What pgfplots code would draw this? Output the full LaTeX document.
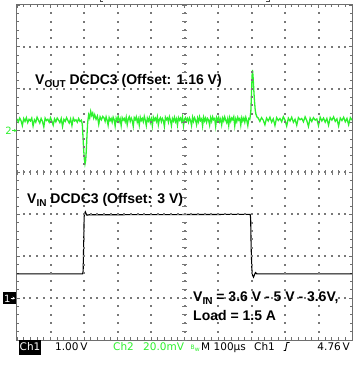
\documentclass[border=0pt]{standalone}
\usepackage{pgfplots}
\pgfplotsset{compat=1.18}
\usetikzlibrary{arrows.meta}
\usepackage{fontspec}
\setmainfont{Liberation Sans}
\newfontfamily\scopefont{DejaVu Sans}
\definecolor{scopegreen}{RGB}{45,240,45}
\definecolor{gridgray}{RGB}{120,120,120}
\definecolor{bordergray}{RGB}{110,110,110}

\begin{document}
\begin{tikzpicture}[x=1bp,y=1bp]
\path[use as bounding box] (-17,-31) rectangle (340,340);
\begin{axis}[at={(0,0)}, anchor=south west, width=335bp, height=335bp, scale only axis,
  xmin=0, xmax=1000, ymin=-4, ymax=4,
  xtick={0,100,...,1000}, ytick={-4,-3,...,4},
  xticklabels={}, yticklabels={},
  minor x tick num=4, minor y tick num=4,
  tick align=inside, major tick length=3bp, minor tick length=2.5bp,
  tick style={bordergray, line width=0.9bp},
  axis line style={bordergray, line width=1bp},
  clip=true]
% Ch2 (VOUT), divisions
\addplot[scopegreen, line width=1.3bp] coordinates {
(0,1.28)(4,1.21)(8,1.30)(12,1.24)(16,1.12)(20,1.29)(24,1.22)(28,1.31)(32,1.19)(36,1.27)
(40,1.23)(44,1.30)(48,1.11)(52,1.26)(56,1.20)(60,1.32)(64,1.25)(68,1.18)(72,1.29)(76,1.22)
(80,1.09)(84,1.30)(88,1.24)(92,1.27)(96,1.20)(100,1.31)(104,1.23)(108,1.13)(112,1.28)(116,1.21)
(120,1.30)(124,1.25)(128,1.19)(132,1.29)(136,1.10)(140,1.27)(144,1.22)(148,1.31)(152,1.24)(156,1.18)
(160,1.28)(164,1.12)(168,1.30)(172,1.23)(176,1.26)(180,1.20)(184,1.29)(188,1.22)(192,1.25)
(195,1.15)(197,0.85)(199,0.55)(201,0.32)(203,0.20)(205,0.28)(207,0.55)(209,0.90)(211,1.20)
(214,1.38)(217,1.30)(220,1.46)(223,1.36)(226,1.42)(229,1.30)(232,1.38)(236,1.27)(240,1.35)
(244,1.15)(248,1.33)(252,1.26)(256,1.34)
(260,1.30)(263,1.22)(266,1.33)(269,1.25)(272,1.13)(275,1.31)(278,1.24)(281,1.29)(284,1.20)(287,1.32)
(290,1.26)(293,1.11)(296,1.30)(299,1.23)(302,1.34)(305,1.21)(308,1.28)(311,1.12)(314,1.31)(317,1.25)
(320,1.29)(323,1.21)(326,1.32)(329,1.14)(332,1.27)(335,1.33)(338,1.22)(341,1.30)(344,1.24)(347,1.10)
(350,1.31)(353,1.26)(356,1.33)(359,1.20)(362,1.28)(365,1.13)(368,1.32)(371,1.24)(374,1.29)(377,1.21)
(380,1.34)(383,1.25)(386,1.12)(389,1.30)(392,1.23)(395,1.31)(398,1.19)(401,1.28)(404,1.11)(407,1.32)
(410,1.25)(413,1.30)(416,1.22)(419,1.33)(422,1.14)(425,1.27)(428,1.31)(431,1.21)(434,1.29)(437,1.24)
(440,1.10)(443,1.32)(446,1.26)(449,1.30)(452,1.20)(455,1.33)(458,1.25)(461,1.12)(464,1.29)(467,1.23)
(470,1.32)(473,1.21)(476,1.28)(479,1.13)(482,1.31)(485,1.25)(488,1.30)(491,1.22)(494,1.33)(497,1.11)
(500,1.27)(503,1.31)(506,1.23)(509,1.29)(512,1.20)(515,1.30)(518,1.24)(521,1.12)(524,1.32)(527,1.22)
(530,1.31)(533,1.25)(536,1.14)(539,1.30)(542,1.21)(545,1.33)(548,1.24)(551,1.28)(554,1.11)(557,1.32)
(560,1.23)(563,1.30)(566,1.20)(569,1.29)(572,1.25)(575,1.13)(578,1.31)(581,1.22)(584,1.33)(587,1.26)
(590,1.29)(593,1.10)(596,1.31)(599,1.24)(602,1.32)(605,1.21)(608,1.28)(611,1.14)(614,1.30)(617,1.23)
(620,1.33)(623,1.25)(626,1.19)(629,1.29)(632,1.12)(635,1.31)(638,1.22)(641,1.30)(644,1.26)(647,1.33)
(650,1.11)(653,1.28)(656,1.21)(659,1.32)(662,1.25)(665,1.29)(668,1.13)(671,1.31)(674,1.23)(677,1.30)
(680,1.20)(683,1.32)(686,1.24)(689,1.12)(692,1.29)(695,1.27)
(698,1.45)(700,1.90)(702,2.35)(703,2.45)(705,2.25)(707,1.95)(709,1.70)(711,1.50)(713,1.40)(716,1.33)
(720,1.30)(725,1.22)(730,1.31)(735,1.25)(740,1.14)(745,1.30)(750,1.23)(755,1.32)(760,1.20)(765,1.28)
(770,1.12)(775,1.31)(780,1.24)(785,1.29)(790,1.21)(795,1.33)(800,1.25)(805,1.11)(810,1.30)(815,1.23)
(820,1.32)(825,1.20)(830,1.27)(835,1.13)(840,1.31)(845,1.26)(850,1.29)(855,1.21)(860,1.33)(865,1.24)
(870,1.10)(875,1.30)(880,1.22)(885,1.31)(890,1.25)(895,1.28)(900,1.12)(905,1.32)(910,1.23)(915,1.30)
(920,1.20)(925,1.29)(930,1.13)(935,1.31)(940,1.25)(945,1.33)(950,1.22)(955,1.28)(960,1.11)(965,1.30)
(970,1.24)(975,1.32)(980,1.21)(985,1.29)(990,1.14)(995,1.31)(1000,1.25)
};
% Ch1 (VIN), divisions
\addplot[black, line width=1.1bp] coordinates {
(0,-2.42)(196,-2.42)(197.5,-2.35)(199,-1.7)(200.5,-1.05)(202,-0.98)(204,-0.94)(206,-0.98)(209,-1.02)
(215,-1.01)(696,-1.00)(697.5,-1.1)(699,-1.8)(701,-2.3)(703,-2.45)(706,-2.50)(709,-2.44)(712,-2.39)
(716,-2.42)(1000,-2.42)
};
\end{axis}
% grid: one dot per minor division on every major line
\foreach \gx in {33.5,67,100.5,134,167.5,201,234.5,268,301.5} {
  \foreach \k in {1,...,39} {
    \fill[gridgray] (\gx-1,\k*8.375-1) rectangle (\gx+1,\k*8.375+1);
  }
}
\foreach \gy in {41.875,83.75,125.625,167.5,209.375,251.25,293.125} {
  \foreach \k in {1,...,49} {
    \fill[gridgray] (\k*6.7-1,\gy-1) rectangle (\k*6.7+1,\gy+1);
  }
}
\foreach \k in {0,...,50} \draw[gridgray, line width=0.8bp] ({\k*6.7},165.3) -- ({\k*6.7},169.7);
\foreach \k in {0,...,40} \draw[gridgray, line width=0.8bp] (165.3,{\k*8.375}) -- (169.7,{\k*8.375});
% top bracket fragments
\draw[black!70, line width=0.8bp] (83,340.5) -- (83,338.2) -- (86,338.2);
\draw[black!70, line width=0.8bp] (252,340.5) -- (252,338.2) -- (249,338.2);
% labels
\node[anchor=base west, inner sep=0pt] at (18,256) {\fontsize{14bp}{16bp}\selectfont\bfseries V\raisebox{-3bp}{\fontsize{10bp}{12bp}\selectfont OUT} DCDC3 (Offset: 1.16 V)};
\node[anchor=base west, inner sep=0pt] at (10,137) {\fontsize{14bp}{16bp}\selectfont\bfseries V\raisebox{-3bp}{\fontsize{10bp}{12bp}\selectfont IN} DCDC3 (Offset: 3 V)};
\node[anchor=base west, inner sep=0pt] at (176,39) {\fontsize{14bp}{16bp}\selectfont\bfseries V\raisebox{-3bp}{\fontsize{10bp}{12bp}\selectfont IN} = 3.6 V - 5 V - 3.6V,};
\node[anchor=base west, inner sep=0pt] at (176,19.3) {\fontsize{14bp}{16bp}\selectfont\bfseries Load = 1.5 A};
% ground markers
\node[anchor=base east, inner sep=0pt, text=scopegreen] at (-5,205.5) {\scopefont\fontsize{10bp}{12bp}\selectfont 2};
\draw[scopegreen, line width=0.8bp, -{Stealth[length=3bp,width=3bp]}] (-5,209.4) -- (0,209.4);
\fill[black] (-14,35.8) rectangle (-1,47.8);
\node[anchor=base west, inner sep=0pt, text=white] at (-13,37.8) {\scopefont\fontsize{10bp}{12bp}\selectfont 1};
\draw[white, line width=0.8bp, -{Stealth[length=2.5bp,width=3bp]}] (-6.5,41.8) -- (-2,41.8);
% status bar
\fill[black] (2,-15) rectangle (23.5,0);
\node[anchor=base west, inner sep=0pt, text=white] at (2.5,-10.5) {\scopefont\fontsize{10.5bp}{12bp}\selectfont Ch1};
\node[anchor=base west, inner sep=0pt] at (38,-10.5) {\scopefont\fontsize{10.5bp}{12bp}\selectfont 1.00\,V};
\node[anchor=base west, inner sep=0pt, text=scopegreen] at (96,-10.5) {\scopefont\fontsize{10.5bp}{12bp}\selectfont Ch2};
\node[anchor=base west, inner sep=0pt, text=scopegreen] at (126,-10.5) {\scopefont\fontsize{10.5bp}{12bp}\selectfont 20.0mV};
\node[anchor=base west, inner sep=0pt, text=scopegreen] at (173.5,-9.5) {\scopefont\fontsize{6bp}{7bp}\selectfont B\raisebox{-1.5bp}{w}};
\node[anchor=base west, inner sep=0pt] at (184,-10.5) {\scopefont\fontsize{10.5bp}{12bp}\selectfont M};
\node[anchor=base west, inner sep=0pt] at (196.5,-10.5) {\scopefont\fontsize{10.5bp}{12bp}\selectfont 100µs};
\node[anchor=base west, inner sep=0pt] at (237,-10.5) {\scopefont\fontsize{10.5bp}{12bp}\selectfont Ch1};
\draw[black, line width=0.9bp] (266.5,-10.5) -- (268.5,-10.5) -- (270,-2.5) -- (272.5,-2.5);
\node[anchor=base east, inner sep=0pt] at (333,-10.5) {\scopefont\fontsize{10.5bp}{12bp}\selectfont 4.76\,V};
\end{tikzpicture}
\end{document}
